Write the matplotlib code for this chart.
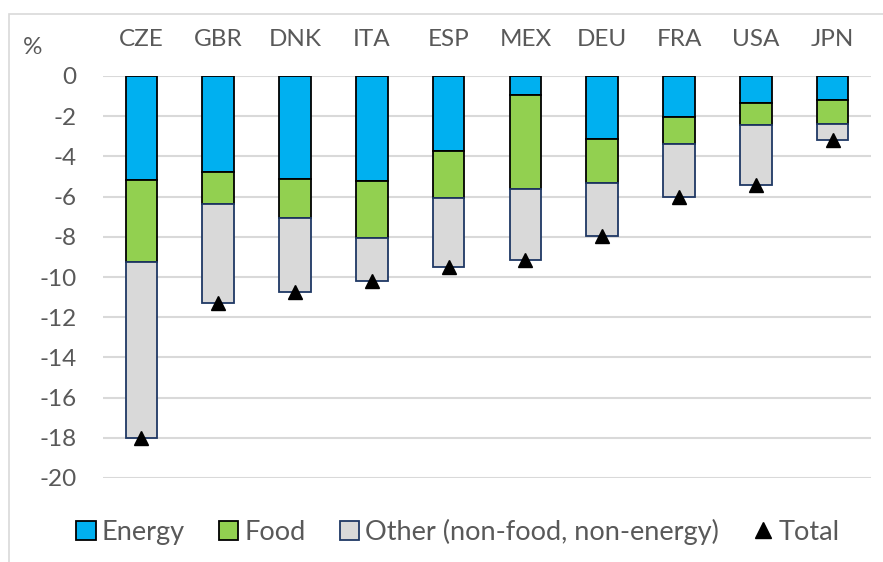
import numpy as np
import matplotlib.pyplot as plt
from matplotlib.patches import Patch, Rectangle
from matplotlib.lines import Line2D

plt.rcParams['font.family'] = ['Lato', 'DejaVu Sans']

countries = ['CZE', 'GBR', 'DNK', 'ITA', 'ESP', 'MEX', 'DEU', 'FRA', 'USA', 'JPN']
energy = [-5.17, -4.78, -5.12, -5.22, -3.72, -0.95, -3.15, -2.02, -1.34, -1.19]
food = [-4.07, -1.59, -1.93, -2.82, -2.33, -4.65, -2.16, -1.36, -1.10, -1.18]
other = [-8.76, -4.91, -3.70, -2.14, -3.44, -3.54, -2.63, -2.66, -2.97, -0.81]
total = [-18.0, -11.28, -10.75, -10.18, -9.49, -9.14, -7.94, -6.04, -5.41, -3.18]
yticks = [0, -2, -4, -6, -8, -10, -12, -14, -16, -18, -20]

c_energy = '#00b0f0'
c_food = '#92d050'
c_other = '#d9d9d9'
c_edge_other = '#1f3864'
txt = '#595959'
fs = 17.5

fig = plt.figure(figsize=(8.83, 5.62), dpi=100)
# outer chart border (only left and top edges visible)
fig.patches.append(Rectangle((9 / 883, -0.1), 1.2, 1.1 - 14 / 562,
                             transform=fig.transFigure, fill=False,
                             edgecolor='#d9d9d9', linewidth=1.2))
ax = fig.add_axes([103 / 883, 1 - 478 / 562, 768 / 883, 402 / 562])

x = np.arange(len(countries))
w = 0.41
energy = np.array(energy)
food = np.array(food)
other = np.array(other)

ax.bar(x, energy, w, color=c_energy, edgecolor='black', linewidth=1.3, zorder=3)
ax.bar(x, food, w, bottom=energy, color=c_food, edgecolor='black', linewidth=1.3, zorder=3)
ax.bar(x, other, w, bottom=energy + food, color=c_other, edgecolor=c_edge_other,
       linewidth=1.3, zorder=3)
ax.plot(x, total, linestyle='none', marker='^', color='black', markersize=10.5, zorder=4)

ax.set_xlim(-0.5, len(countries) - 0.5)
ax.set_ylim(-20, 0)
ax.set_yticks(yticks)
ax.set_yticklabels([str(v) for v in yticks], fontsize=fs, color=txt)
ax.grid(axis='y', color='#d9d9d9', linewidth=1.5, zorder=0)
ax.set_axisbelow(True)
for s in ax.spines.values():
    s.set_visible(False)

ax.xaxis.tick_top()
ax.set_xticks(x)
ax.set_xticklabels(countries, fontsize=fs, color=txt)
ax.tick_params(axis='x', length=0, pad=19)
ax.tick_params(axis='y', length=0, pad=19)

fig.text(33 / 883, 1 - 48 / 562, '%', fontsize=fs, color=txt, ha='center', va='center')

handles = [Patch(facecolor=c_energy, edgecolor='black', linewidth=1.3),
           Patch(facecolor=c_food, edgecolor='black', linewidth=1.3),
           Patch(facecolor=c_other, edgecolor=c_edge_other, linewidth=1.3),
           Line2D([], [], linestyle='none', marker='^', color='black', markersize=11)]
labels = ['Energy', 'Food', 'Other (non-food, non-energy)', 'Total']
fig.legend(handles, labels, loc='center', bbox_to_anchor=(458 / 883, 1 - 532 / 562), ncol=4,
           frameon=False, fontsize=19.5, labelcolor=txt, handlelength=0.72,
           handleheight=0.72, handletextpad=0.23, columnspacing=1.25)

fig.savefig('out.png', dpi=100)
